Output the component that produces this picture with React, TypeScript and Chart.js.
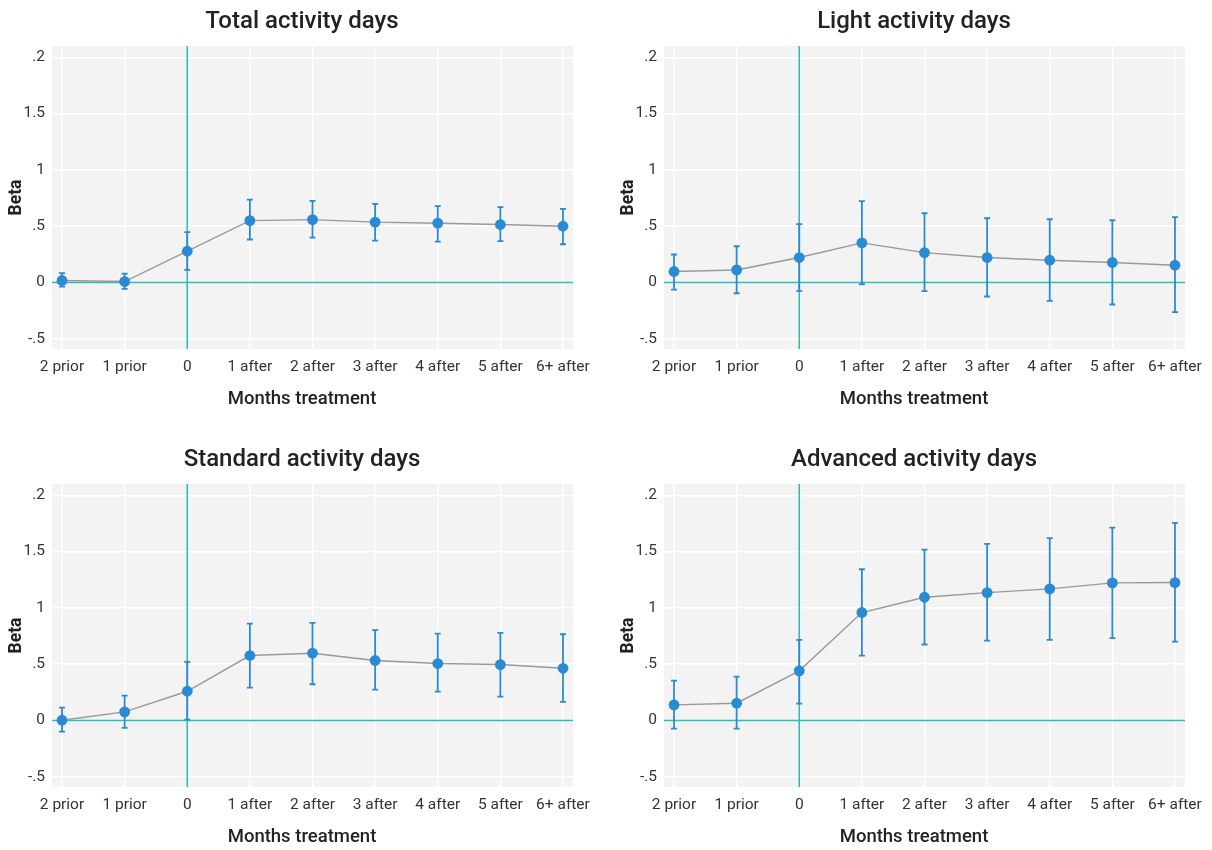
import React, { useEffect, useRef } from "react";
import { Chart, registerables } from "chart.js";

Chart.register(...registerables);

const xLabels = ["2 prior", "1 prior", "0", "1 after", "2 after", "3 after", "4 after", "5 after", "6+ after"];
const yTickValues = [-0.5, 0, 0.5, 1, 1.5, 2];
const yTickLabels = ["-.5", "0", ".5", "1", "1.5", ".2"];

const totalBeta = [0.018, 0.009, 0.278, 0.55, 0.559, 0.536, 0.527, 0.515, 0.5];
const totalHi = [0.083, 0.08, 0.447, 0.737, 0.725, 0.698, 0.678, 0.669, 0.654];
const totalLo = [-0.036, -0.056, 0.112, 0.382, 0.399, 0.373, 0.364, 0.367, 0.34];

const lightBeta = [0.098, 0.112, 0.222, 0.352, 0.266, 0.222, 0.198, 0.178, 0.154];
const lightHi = [0.249, 0.322, 0.518, 0.722, 0.615, 0.571, 0.562, 0.553, 0.58];
const lightLo = [-0.062, -0.095, -0.074, -0.015, -0.077, -0.124, -0.163, -0.195, -0.263];

const standardBeta = [0.003, 0.077, 0.26, 0.577, 0.598, 0.533, 0.506, 0.497, 0.464];
const standardHi = [0.115, 0.222, 0.521, 0.861, 0.867, 0.802, 0.772, 0.778, 0.766];
const standardLo = [-0.098, -0.065, 0.009, 0.293, 0.322, 0.275, 0.257, 0.213, 0.166];

const advancedBeta = [0.139, 0.154, 0.441, 0.959, 1.095, 1.136, 1.169, 1.222, 1.225];
const advancedHi = [0.355, 0.39, 0.716, 1.343, 1.518, 1.568, 1.62, 1.713, 1.754];
const advancedLo = [-0.071, -0.071, 0.151, 0.577, 0.675, 0.71, 0.716, 0.731, 0.701];

const FONT = "Roboto";
const BLUE = "#2a8bd4";
const TEAL = "#2dbdb1";
const BG = "#f3f3f3";

const decorPlugin = {
  id: "decor",
  beforeDraw(chart: any) {
    const { ctx, chartArea } = chart;
    ctx.save();
    ctx.fillStyle = BG;
    ctx.fillRect(chartArea.left, chartArea.top, chartArea.right - chartArea.left, chartArea.bottom - chartArea.top);
    ctx.restore();
  },
  beforeDatasetsDraw(chart: any) {
    const { ctx, chartArea, scales } = chart;
    const x0 = scales.x.getPixelForValue(2);
    const y0 = scales.y.getPixelForValue(0);
    ctx.save();
    ctx.strokeStyle = TEAL;
    ctx.lineWidth = 1.6;
    ctx.beginPath();
    ctx.moveTo(chartArea.left, y0);
    ctx.lineTo(chartArea.right, y0);
    ctx.moveTo(x0, chartArea.top);
    ctx.lineTo(x0, chartArea.bottom);
    ctx.stroke();
    ctx.restore();
  },
  afterDatasetDraw(chart: any, args: any, opts: any) {
    if (args.index !== 1) return;
    const { ctx, scales } = chart;
    const lo: number[] = opts.lo || [];
    const hi: number[] = opts.hi || [];
    ctx.save();
    ctx.strokeStyle = BLUE;
    ctx.lineWidth = 1.8;
    ctx.beginPath();
    for (let i = 0; i < lo.length; i++) {
      const x = scales.x.getPixelForValue(i);
      const yl = scales.y.getPixelForValue(lo[i]);
      const yh = scales.y.getPixelForValue(hi[i]);
      ctx.moveTo(x, yl);
      ctx.lineTo(x, yh);
      ctx.moveTo(x - 3, yl);
      ctx.lineTo(x + 3, yl);
      ctx.moveTo(x - 3, yh);
      ctx.lineTo(x + 3, yh);
    }
    ctx.stroke();
    ctx.restore();
  },
};

const W = 604;
const H = 438;

function Panel({ title, beta, lo, hi, left, top }: any) {
  const ref = useRef<HTMLCanvasElement>(null);
  useEffect(() => {
    const pts = beta.map((v: number, i: number) => ({ x: i, y: v }));
    const chart = new Chart(ref.current!, {
      type: "scatter",
      data: {
        datasets: [
          {
            data: pts,
            showLine: false,
            pointRadius: 5.4,
            pointBackgroundColor: BLUE,
            pointBorderWidth: 0,
            backgroundColor: BLUE,
          },
          {
            data: pts,
            showLine: true,
            borderColor: "#999999",
            borderWidth: 1.4,
            pointRadius: 0,
          },
        ],
      },
      options: {
        animation: false,
        responsive: false,
        layout: { padding: { left: 0, right: 0, top: 0, bottom: 0 } },
        plugins: {
          legend: { display: false },
          tooltip: { enabled: false },
          title: {
            display: true,
            text: title,
            color: "#222222",
            font: { family: FONT, size: 24, weight: "500" },
            padding: { top: 8, bottom: 9.2 },
          },
          subtitle: {
            display: true,
            position: "bottom",
            text: "Months treatment",
            color: "#222222",
            font: { family: FONT, size: 18.5, weight: "500" },
            padding: { top: 0, bottom: 27.9 },
          },
          decor: { lo, hi },
        } as any,
        scales: {
          x: {
            type: "linear",
            min: -0.16,
            max: 8.16,
            afterBuildTicks: (axis: any) => {
              axis.ticks = xLabels.map((_, i) => ({ value: i }));
            },
            afterFit: (axis: any) => {
              axis.height = 38.9;
              axis.paddingLeft = 0;
              axis.paddingRight = 0;
            },
            ticks: {
              autoSkip: false,
              maxRotation: 0,
              padding: 9,
              color: "#333333",
              font: { family: FONT, size: 15.5 },
              callback: (v: any) => xLabels[v] ?? "",
            },
            grid: { color: "#ffffff", lineWidth: 1.5, drawTicks: false },
            border: { display: false },
          },
          y: {
            type: "linear",
            min: -0.59,
            max: 2.1,
            afterBuildTicks: (axis: any) => {
              axis.ticks = yTickValues.map((v) => ({ value: v }));
            },
            afterFit: (axis: any) => {
              axis.width = 52;
              axis.paddingTop = 0;
              axis.paddingBottom = 0;
            },
            ticks: {
              padding: 7,
              color: "#333333",
              font: { family: FONT, size: 15.5 },
              callback: (v: any) => {
                const i = yTickValues.indexOf(v);
                return i >= 0 ? yTickLabels[i] : "";
              },
            },
            title: {
              display: true,
              text: "Beta",
              color: "#222222",
              font: { family: FONT, size: 17.5, weight: "bold" },
              padding: { top: 6.5, bottom: 0 },
            },
            grid: { color: "#ffffff", lineWidth: 1.5, drawTicks: false },
            border: { display: false },
          },
          y2: {
            type: "linear",
            position: "right",
            display: true,
            afterFit: (axis: any) => {
              axis.width = W - 573;
              axis.paddingTop = 0;
              axis.paddingBottom = 0;
            },
            ticks: { display: false },
            grid: { display: false, drawTicks: false },
            border: { display: false },
          },
        },
      },
      plugins: [decorPlugin],
    } as any);
    return () => chart.destroy();
  }, []);
  return (
    <div style={{ position: "absolute", left, top, width: W, height: H }}>
      <canvas ref={ref} width={W} height={H} style={{ width: W, height: H }} />
    </div>
  );
}

export default function App() {
  return (
    <div
      style={{
        position: "fixed",
        left: 0,
        top: 0,
        width: 1212,
        height: 850,
        overflow: "hidden",
        background: "#ffffff",
      }}
    >
      <Panel title="Total activity days" beta={totalBeta} lo={totalLo} hi={totalHi} left={0} top={0} />
      <Panel title="Light activity days" beta={lightBeta} lo={lightLo} hi={lightHi} left={612} top={0} />
      <Panel title="Standard activity days" beta={standardBeta} lo={standardLo} hi={standardHi} left={0} top={438} />
      <Panel title="Advanced activity days" beta={advancedBeta} lo={advancedLo} hi={advancedHi} left={612} top={438} />
    </div>
  );
}
